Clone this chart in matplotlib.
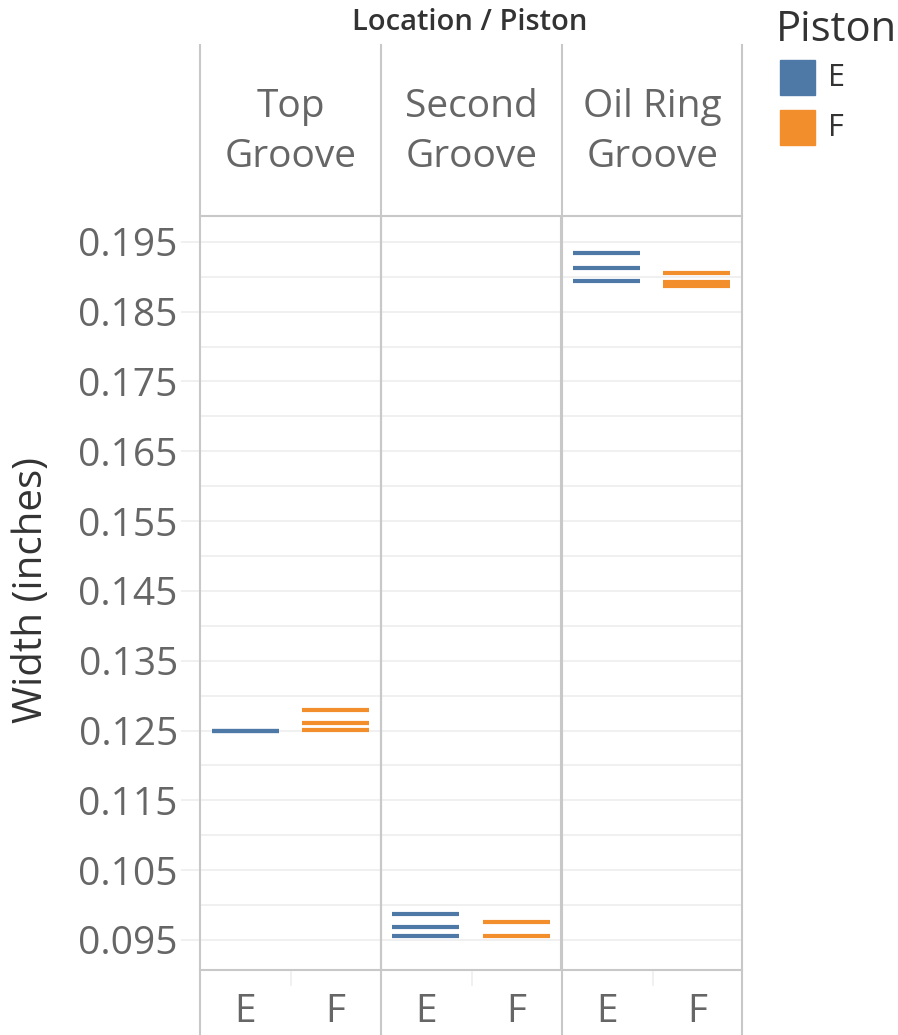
import matplotlib.pyplot as plt
from matplotlib.lines import Line2D
import numpy as np

plt.rcParams['font.family'] = ['Open Sans', 'DejaVu Sans']

locations = ['Top\nGroove', 'Second\nGroove', 'Oil Ring\nGroove']
pistons = ['E', 'F']
colors = {'E': '#4e79a7', 'F': '#f28e2b'}

# measured widths per location / piston
top_e = [0.1249, 0.1250]
top_f = [0.1280, 0.1261, 0.1251]
second_e = [0.0987, 0.0969, 0.0955]
second_f = [0.0976, 0.0955]
oil_e = [0.1934, 0.1912, 0.1894]
oil_f = [0.1905, 0.1893, 0.1887]
values = [[top_e, top_f], [second_e, second_f], [oil_e, oil_f]]

yticks = [0.095, 0.105, 0.115, 0.125, 0.135, 0.145, 0.155, 0.165, 0.175, 0.185, 0.195]

W, H = 898, 1035
fig = plt.figure(figsize=(W / 100, H / 100), dpi=100)

L, R = 200 / W, 742 / W
y_top, y_bot = 1 - 216 / H, 1 - 970 / H
ax = fig.add_axes([L, y_bot, R - L, y_top - y_bot])

sep = '#c8c8c8'
grid = '#ededed'
txt = '#666666'

ax.set_xlim(0, 6)
ax.set_ylim(0.0907, 0.1987)
for g in np.arange(0.090, 0.200, 0.005):
    ax.axhline(g, color=grid, lw=1.2, zorder=0)
for xv in [2, 4]:
    ax.axvline(xv, color=sep, lw=1.5, zorder=1)

for i, loc_vals in enumerate(values):
    for j, p in enumerate(pistons):
        xc = i * 2 + j + 0.5
        ax.hlines(loc_vals[j], xc - 0.37, xc + 0.37, color=colors[p], lw=3, zorder=3)

ax.set_yticks(yticks)
ax.set_yticklabels([f'{t:.3f}' for t in yticks], fontsize=28, color=txt)
ax.tick_params(axis='y', length=14, color=grid, width=1.2, pad=2)
ax.set_xticks([])
for s in ['top', 'right', 'bottom', 'left']:
    ax.spines[s].set_visible(False)

# frame lines across header / plot / footer
def fx(px):
    return px / W

def fy(py):
    return 1 - py / H

fig.text(fx(32), fy(590), 'Width (inches)', rotation=90, ha='center', va='center',
         fontsize=29, color='#333333')

for px in [200, 381, 562, 742]:
    fig.add_artist(Line2D([fx(px), fx(px)], [fy(45), fy(1035)], color=sep, lw=1.5))
for py in [216, 970]:
    fig.add_artist(Line2D([fx(200), fx(742)], [fy(py), fy(py)], color=sep, lw=1.5))

# header labels
for i, name in enumerate(locations):
    cx = (200 + 181 * i + 90.5)
    fig.text(fx(cx), fy(132), name, ha='center', va='center', fontsize=28,
             color=txt, linespacing=1.4)
fig.text(fx(470), fy(22), 'Location / Piston', ha='center', va='center',
         fontsize=21, color='#333333', fontweight='semibold')

# footer labels
for i in range(3):
    for j, p in enumerate(pistons):
        cx = 200 + 181 * i + 45 + 90.5 * j
        fig.text(fx(cx), fy(1012), p, ha='center', va='center', fontsize=28, color=txt)
    tx = 200 + 181 * i + 90.5
    fig.add_artist(Line2D([fx(tx), fx(tx)], [fy(972), fy(985)], color=grid, lw=1.2))

# legend
fig.text(fx(776), fy(30), 'Piston', ha='left', va='center', fontsize=30, color='#333333')
for k, p in enumerate(pistons):
    top_px = 60 + 50 * k
    fig.add_artist(plt.Rectangle((fx(780), fy(top_px + 35)), 35 / W, 35 / H,
                                 color=colors[p], transform=fig.transFigure))
    fig.text(fx(828), fy(top_px + 18), p, ha='left', va='center', fontsize=22, color='#333333')

fig.savefig('out.png', dpi=100)
